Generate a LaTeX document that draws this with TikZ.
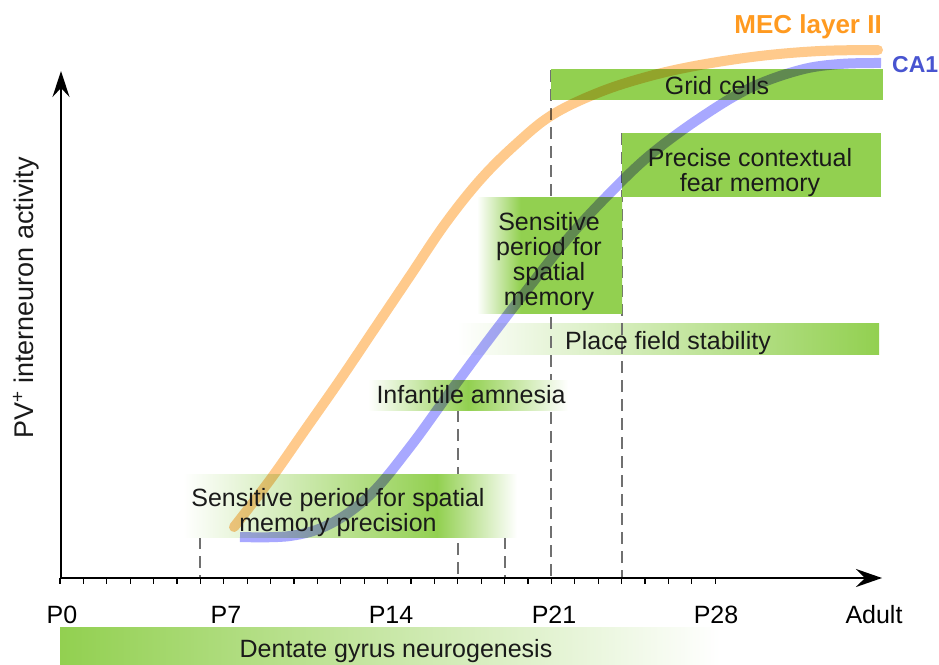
\documentclass[tikz,border=0pt]{standalone}
\usepackage{fontspec}
\setmainfont{Liberation Sans}
\usetikzlibrary{arrows.meta}
\definecolor{grn}{RGB}{146,208,80}
\definecolor{orgline}{RGB}{255,202,140}
\definecolor{bluline}{RGB}{168,168,255}
\definecolor{orgtxt}{RGB}{255,154,32}
\definecolor{blutxt}{RGB}{72,84,208}
\definecolor{txt}{RGB}{26,26,26}
\definecolor{dashgray}{RGB}{112,112,112}
\pgfdeclarehorizontalshading{shPrec}{100bp}{color(0bp)=(white); color(25bp)=(white); color(63bp)=(grn); color(75bp)=(white); color(100bp)=(white)}
\pgfdeclarehorizontalshading{shInf}{100bp}{color(0bp)=(white); color(25bp)=(white); color(50bp)=(grn); color(75bp)=(white); color(100bp)=(white)}
\pgfdeclarehorizontalshading{shSens}{100bp}{color(0bp)=(white); color(25bp)=(white); color(40bp)=(grn); color(75bp)=(grn); color(100bp)=(grn)}
\tikzset{
  lbl/.style={font=\fontsize{25}{25}\selectfont, text=txt, inner sep=0pt, align=center},
  ticklbl/.style={font=\fontsize{25}{25}\selectfont, text=black, inner sep=0pt, anchor=base},
  guide/.style={draw=dashgray, line width=2pt, dash pattern=on 12pt off 7pt},
  axisline/.style={line width=2pt, black},
  curveorg/.style={draw=orgline, line width=10pt, line cap=round, blend mode=multiply},
  curveblu/.style={draw=bluline, line width=10pt, line cap=butt, blend mode=multiply},
}
\begin{document}
\begin{tikzpicture}[x=1pt,y=-1pt]
\useasboundingbox (0,0) rectangle (939,664);
% place field bar (under guides)
\fill[left color=white, right color=grn] (457,323) rectangle (879,354);
% dashed guide lines
\coordinate (g6t) at (200.4,537); \coordinate (g6b) at (200.4,578);
\coordinate (g17t) at (457.8,410); \coordinate (g17b) at (457.8,578);
\coordinate (g19t) at (504.6,537); \coordinate (g19b) at (504.6,578);
\coordinate (g21t) at (551.4,70); \coordinate (g21b) at (551.4,578);
\coordinate (g24t) at (621.6,133); \coordinate (g24b) at (621.6,578);
\draw[guide] (g6t) -- (g6b);
\draw[guide] (g17t) -- (g17b);
\draw[guide] (g19t) -- (g19b);
\draw[guide] (g21t) -- (g21b);
\draw[guide] (g24t) -- (g24b);
% bars
\fill[grn] (551,69) rectangle (883,100);
\fill[grn] (622,133) rectangle (881,197);
\fill[shading=shSens] (477,197) rectangle (622,313);
\fill[shading=shInf] (368,380) rectangle (568,410);
\fill[shading=shPrec] (183,474) rectangle (517,537);
\fill[left color=grn, right color=white] (60,627) rectangle (720,664);
% ticks
\foreach \d in {0,...,28} {\draw[line width=1.2pt] ({60+23.4*\d},578) -- ({60+23.4*\d},584);}
% axes
\coordinate (O) at (61,578);
\coordinate (Ytop) at (61,71);
\coordinate (Xend) at (882,578);
\draw[axisline, -{Stealth[length=26pt,width=17pt,inset=9pt]}] (O) -- (Ytop);
\draw[axisline, -{Stealth[length=26pt,width=18pt,inset=9pt]}] (O) -- (Xend);
% curves
\draw[curveorg] plot[smooth, tension=0.6] coordinates {(234,527) (270,480) (305,430) (340,380) (375,328) (410,276) (445,224) (480,180) (515,145) (552,115) (600,92) (650,76) (700,65) (760,56) (820,51) (878,50)};
\draw[curveblu] plot[smooth, tension=0.6] coordinates {(240,537) (290,536) (330,524) (370,495) (410,447) (450,392) (490,338) (530,286) (570,236) (610,193) (650,155) (700,118) (750,88) (800,70) (840,64) (881,63)};
% labels
\node[lbl, anchor=base] (grid) at (717,94) {Grid cells};
\node[lbl, anchor=base] (precise) at (750,191) {Precise contextual\\fear memory};
\node[lbl, anchor=base] (sens) at (549,305) {Sensitive\\period for\\spatial\\memory};
\node[lbl, anchor=base] (place) at (668,349) {Place field stability};
\node[lbl, anchor=base] (infant) at (471,403) {Infantile amnesia};
\node[lbl, anchor=base] (prec) at (338,531) {Sensitive period for spatial\\memory precision};
\node[lbl, anchor=base] (dent) at (396,657) {Dentate gyrus neurogenesis};
\node[ticklbl] (p0) at (62,623) {P0};
\node[ticklbl] (p7) at (226,623) {P7};
\node[ticklbl] (p14) at (391,623) {P14};
\node[ticklbl] (p21) at (554,623) {P21};
\node[ticklbl] (p28) at (716,623) {P28};
\node[ticklbl] (adult) at (874,623) {Adult};
\node[font=\fontsize{26}{26}\selectfont\bfseries, text=orgtxt, inner sep=0pt, anchor=base east] (mec) at (882,33) {MEC layer II};
\node[font=\fontsize{23}{23}\selectfont\bfseries, text=blutxt, inner sep=0pt, anchor=base west] (ca1) at (892,72) {CA1};
\node[font=\fontsize{27}{27}\selectfont, text=txt, inner sep=0pt, anchor=base, rotate=90] (ylab) at (33,298) {PV\textsuperscript{+} interneuron activity};
\end{tikzpicture}
\end{document}
